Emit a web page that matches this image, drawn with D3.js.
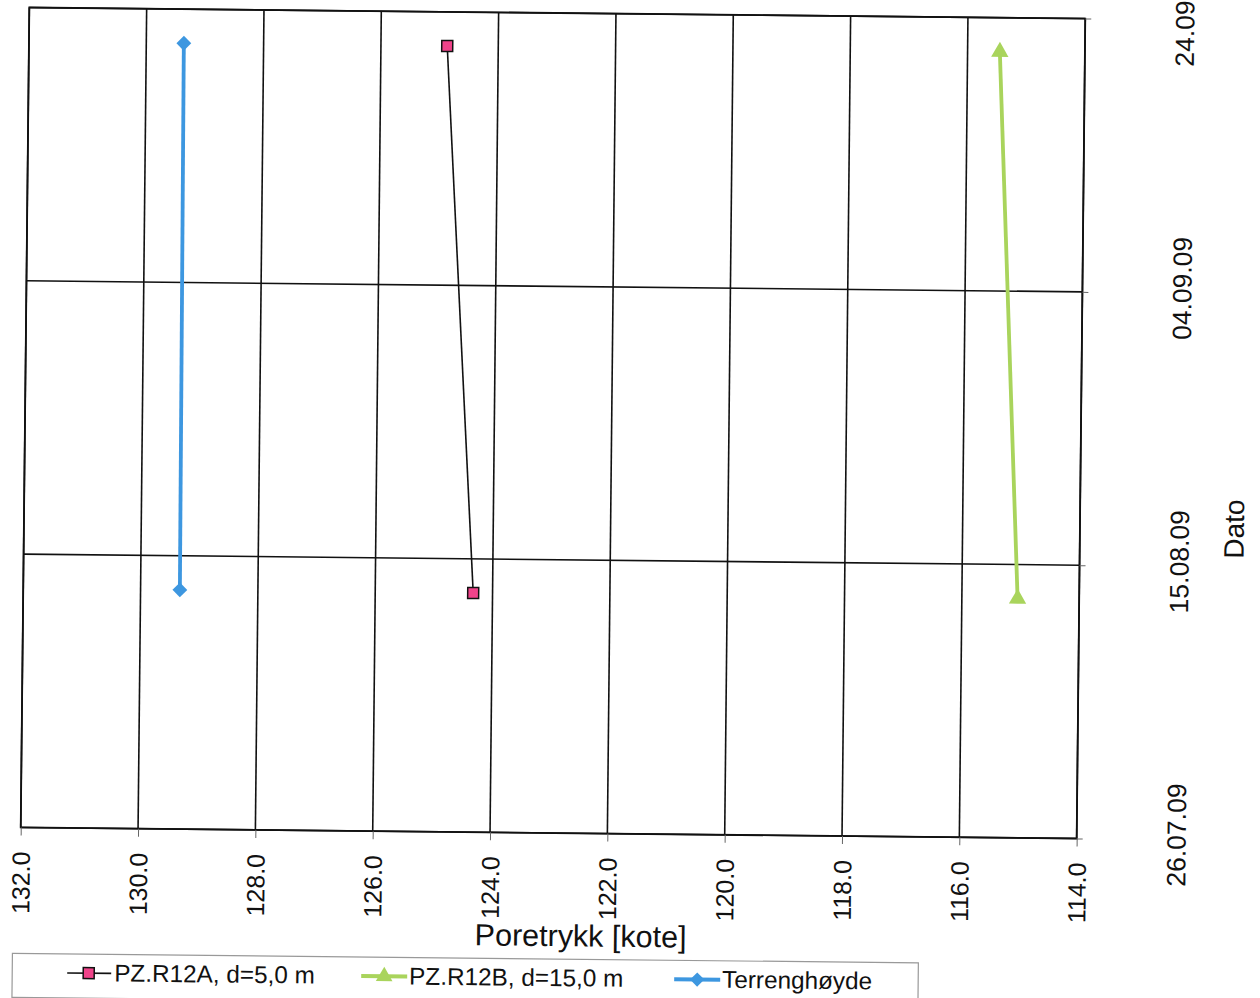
<!DOCTYPE html>
<html>
<head>
<meta charset="utf-8">
<script src="https://cdn.jsdelivr.net/npm/d3@7"></script>
<style>
  html, body { margin: 0; padding: 0; background: #fff; }
  svg { display: block; }
  text { font-family: "Liberation Sans", Arial, sans-serif; fill: #111; }
</style>
</head>
<body>
<svg id="chart" width="1260" height="998"></svg>
<script>
// ---- data ----
const xTicks = [132, 130, 128, 126, 124, 122, 120, 118, 116, 114];
const dateTicks = ["2009-07-26", "2009-08-15", "2009-09-04", "2009-09-24"];
const dates = ["2009-08-12T12:00", "2009-09-21T12:00"];
const pzA = [124.33, 124.87];     // PZ.R12A, d=5,0 m
const pzB = [115.05, 115.45];     // PZ.R12B, d=15,0 m
const terreng = [129.33, 129.36]; // Terrenghøyde
const seriesNames = ["PZ.R12A, d=5,0 m", "PZ.R12B, d=15,0 m", "Terrenghøyde"];

const parse = d3.isoParse;
const fmtDate = d3.timeFormat("%d.%m.%y");

const svg = d3.select("#chart");
const root = svg.append("g").attr("transform", "rotate(0.6,553,423)");

const L = 25, R = 1081, T = 13, B = 833;
const x = d3.scaleLinear().domain([132, 114]).range([L, R]);
const y = d3.scaleTime().domain([parse(dateTicks[0]), parse(dateTicks[dateTicks.length - 1])]).range([B, T]);

// grid
const grid = root.append("g").attr("stroke", "#111").attr("stroke-width", 1.6);
xTicks.forEach(v => {
  grid.append("line").attr("x1", x(v)).attr("x2", x(v)).attr("y1", T).attr("y2", B);
});
dateTicks.forEach(d => {
  grid.append("line").attr("x1", L).attr("x2", R).attr("y1", y(parse(d))).attr("y2", y(parse(d)));
});
root.append("rect").attr("x", L).attr("y", T).attr("width", R - L).attr("height", B - T)
  .attr("fill", "none").attr("stroke", "#111").attr("stroke-width", 1.8);

// bottom axis
const xAxis = d3.axisBottom(x).tickValues(xTicks).tickFormat(d3.format(".1f")).tickSize(8).tickPadding(0);
const gx = root.append("g").attr("transform", `translate(0,${B})`).call(xAxis);
gx.select(".domain").remove();
gx.selectAll(".tick line").attr("stroke", "#666").attr("stroke-width", 1);
gx.selectAll(".tick text")
  .attr("font-size", 25).attr("fill", "#111")
  .attr("text-anchor", "end").attr("dy", null)
  .attr("transform", "translate(9,24) rotate(-90)")
  .attr("x", 0).attr("y", 0);

// right axis
const yAxis = d3.axisRight(y).tickValues(dateTicks.map(parse)).tickFormat(fmtDate).tickSize(6).tickPadding(0);
const gy = root.append("g").attr("transform", `translate(${R},0)`).call(yAxis);
gy.select(".domain").remove();
gy.selectAll(".tick line").attr("stroke", "#666").attr("stroke-width", 1);
gy.selectAll(".tick text")
  .attr("font-size", 26.5).attr("fill", "#111")
  .attr("text-anchor", "middle").attr("dy", null)
  .attr("x", 0).attr("y", 0)
  .attr("transform", "translate(109,-5) rotate(-90)");

// axis titles
root.append("text").attr("x", 586).attr("y", 946).attr("text-anchor", "middle")
  .attr("font-size", 30.5).text("Poretrykk [kote]");
root.append("text").attr("transform", "translate(1245,522) rotate(-90)")
  .attr("text-anchor", "middle").attr("font-size", 28).text("Dato");

// series
const line = d3.line().x(d => x(d.v)).y(d => y(d.t));
const mk = arr => arr.map((v, i) => ({ v, t: parse(dates[i]) }));
const dA = mk(pzA), dB = mk(pzB), dT = mk(terreng);

const blue = "#3d97e0", green = "#a9d45c", pink = "#f0438a";

root.append("path").datum(dT).attr("d", line).attr("fill", "none").attr("stroke", blue).attr("stroke-width", 3.8);
root.selectAll(".dT").data(dT).enter().append("path")
  .attr("transform", d => `translate(${x(d.v)},${y(d.t)})`)
  .attr("d", d3.symbol(d3.symbolDiamond2, 140)).attr("fill", blue);

root.append("path").datum(dA).attr("d", line).attr("fill", "none").attr("stroke", "#111").attr("stroke-width", 1.6);
root.selectAll(".dA").data(dA).enter().append("rect")
  .attr("x", d => x(d.v) - 5.5).attr("y", d => y(d.t) - 5.5).attr("width", 11).attr("height", 11)
  .attr("fill", pink).attr("stroke", "#111").attr("stroke-width", 1.5);

root.append("path").datum(dB).attr("d", line).attr("fill", "none").attr("stroke", green).attr("stroke-width", 3.8);
root.selectAll(".dB").data(dB).enter().append("path")
  .attr("transform", d => `translate(${x(d.v)},${y(d.t)})`)
  .attr("d", d3.symbol(d3.symbolTriangle, 130)).attr("fill", green);

// legend
const lg = root.append("g").attr("transform", "translate(18,959)");
lg.append("rect").attr("x", 0).attr("y", 0).attr("width", 906).attr("height", 44)
  .attr("fill", "#fff").attr("stroke", "#999").attr("stroke-width", 1.2);
const items = [
  { x0: 55, name: seriesNames[0], type: "A" },
  { x0: 349, name: seriesNames[1], type: "B" },
  { x0: 662, name: seriesNames[2], type: "T" }
];
items.forEach(it => {
  const g = lg.append("g").attr("transform", `translate(${it.x0},19)`);
  if (it.type === "A") {
    g.append("line").attr("x1", 0).attr("x2", 44).attr("stroke", "#111").attr("stroke-width", 1.6);
    g.append("rect").attr("x", 16).attr("y", -5.5).attr("width", 11).attr("height", 11)
      .attr("fill", pink).attr("stroke", "#111").attr("stroke-width", 1.5);
  } else if (it.type === "B") {
    g.append("line").attr("x1", 0).attr("x2", 46).attr("stroke", green).attr("stroke-width", 4);
    g.append("path").attr("transform", "translate(23,0)").attr("d", d3.symbol(d3.symbolTriangle, 120)).attr("fill", green);
  } else {
    g.append("line").attr("x1", 0).attr("x2", 46).attr("stroke", blue).attr("stroke-width", 4);
    g.append("path").attr("transform", "translate(23,0)").attr("d", d3.symbol(d3.symbolDiamond2, 130)).attr("fill", blue);
  }
  g.append("text").attr("x", it.type === "A" ? 47 : 48).attr("y", 8).attr("font-size", 24.3).text(it.name);
});
</script>
</body>
</html>
